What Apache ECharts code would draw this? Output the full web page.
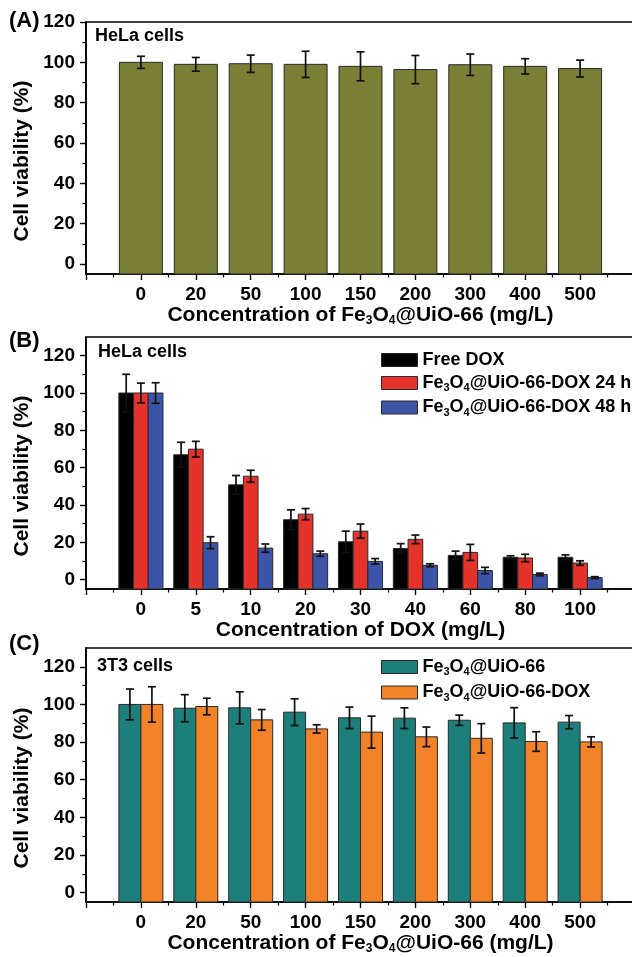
<!DOCTYPE html>
<html>
<head>
<meta charset="utf-8">
<title>Cell viability</title>
<script src="https://cdn.jsdelivr.net/npm/echarts@6/dist/echarts.min.js"></script>
<style>
  html, body { margin: 0; padding: 0; background: #fff; }
  #chart { width: 632px; height: 957px; }
</style>
</head>
<body>
<div id="chart"></div>
<script>
// (A) HeLa cells, carrier only
const concA = ['0', '20', '50', '100', '150', '200', '300', '400', '500']
const carrierHeLa = [100, 99, 99.3, 99, 98, 96.4, 98.8, 98, 96.9]
const carrierHeLaErr = [3, 3.4, 4.3, 6.5, 7.2, 7, 5.3, 3.8, 4.2]

// (B) HeLa cells, DOX formulations
const concB = ['0', '5', '10', '20', '30', '40', '60', '80', '100']
const freeDox = [100, 66.9, 50.8, 32.1, 20.3, 16.7, 13, 12, 12]
const freeDoxErr = [10, 6.7, 5, 5.3, 5.7, 2.6, 2.3, 0.8, 1.3]
const dox24 = [100, 69.9, 55.4, 35.1, 26, 21.6, 14.6, 11.6, 8.9]
const dox24Err = [5.3, 4.2, 3.2, 3, 3.8, 2.3, 4.3, 2, 1.2]
const dox48 = [100, 19.8, 16.9, 13.9, 9.8, 7.7, 4.9, 2.8, 1.1]
const dox48Err = [5.5, 3.2, 2.2, 1.4, 1.5, 0.8, 1.7, 0.7, 0.5]

// (C) 3T3 cells
const concC = ['0', '20', '50', '100', '150', '200', '300', '400', '500']
const carrier3T3 = [100, 98, 98.2, 95.9, 92.9, 92.7, 91.6, 90.2, 90.6]
const carrier3T3Err = [8.2, 7.2, 8.5, 7.1, 5.7, 5.5, 2.7, 8.1, 3.5]
const doxCarrier3T3 = [100, 98.9, 91.8, 87, 85.3, 82.8, 82, 80.3, 80.1]
const doxCarrier3T3Err = [9.4, 4.4, 5.5, 2.2, 8.5, 5.2, 7.8, 5.2, 2.7]

const yTicks = [0, 20, 40, 60, 80, 100, 120]
const yMinorTicks = [10, 30, 50, 70, 90, 110]

const FONT = '"Liberation Sans", Arial, Helvetica, sans-serif'
const Y_MIN = -5

// Fe3O4 -> subscripted rich text
function chem(s) {
  return s.replace(/Fe3O4/g, 'Fe{sub|3}O{sub|4}')
}
const subStyle = { fontSize: 12, fontWeight: 'bold', fontFamily: FONT, padding: [11, 0, 0, 0] }

function rows(values, errs) {
  return values.map((v, i) => [i, v, errs[i]])
}

// bar from the axis bottom + error bar, drawn through the axis scales
function barItem(offset, width) {
  return function (params, api) {
    const idx = api.value(0)
    const val = api.value(1)
    const err = api.value(2)
    const top = api.coord([idx, val])
    const base = api.coord([idx, Y_MIN])
    const hi = api.coord([idx, val + err])
    const lo = api.coord([idx, val - err])
    const cx = top[0] + offset
    const cap = 4
    const ink = { stroke: '#111', lineWidth: 1.7 }
    return {
      type: 'group',
      children: [
        {
          type: 'rect',
          shape: { x: cx - width / 2, y: top[1], width: width, height: base[1] - top[1] },
          style: { fill: api.visual('color'), stroke: '#2a2a2a', lineWidth: 1 }
        },
        { type: 'line', shape: { x1: cx, y1: hi[1], x2: cx, y2: lo[1] }, style: ink },
        { type: 'line', shape: { x1: cx - cap, y1: hi[1], x2: cx + cap, y2: hi[1] }, style: ink },
        { type: 'line', shape: { x1: cx - cap, y1: lo[1], x2: cx + cap, y2: lo[1] }, style: ink }
      ]
    }
  }
}

const grids = [
  { left: 86, width: 549, top: 22, height: 252 },
  { left: 86, width: 549, top: 337, height: 252 },
  { left: 86, width: 549, top: 648, height: 254 }
]

function xAxisFor(gridIndex, cats, name) {
  return {
    type: 'value',
    gridIndex: gridIndex,
    position: 'bottom',
    min: -1,
    max: 9,
    interval: 1,
    axisLine: { show: true, onZero: false, lineStyle: { color: '#000', width: 1.6 } },
    axisTick: { show: true, length: 6, lineStyle: { color: '#000', width: 1.4 } },
    minorTick: { show: true, splitNumber: 2, length: 3.5, lineStyle: { color: '#000', width: 1.2 } },
    splitLine: { show: false },
    minorSplitLine: { show: false },
    axisLabel: {
      margin: 11,
      fontSize: 19,
      fontWeight: 'bold',
      fontFamily: FONT,
      color: '#000',
      formatter: v => (cats[v] !== undefined ? cats[v] : '')
    },
    name: chem(name),
    nameLocation: 'middle',
    nameGap: 25,
    nameTextStyle: {
      fontSize: 21,
      fontWeight: 'bold',
      fontFamily: FONT,
      color: '#000',
      rich: { sub: subStyle }
    }
  }
}

function yAxesFor(gridIndex, max) {
  return [
    {
      type: 'value',
      gridIndex: gridIndex,
      position: 'left',
      min: Y_MIN,
      max: max,
      axisLine: { show: true, onZero: false, lineStyle: { color: '#000', width: 1.6 } },
      axisTick: { show: true, length: 6, customValues: yTicks, lineStyle: { color: '#000', width: 1.4 } },
      splitLine: { show: false },
      axisLabel: {
        customValues: yTicks,
        margin: 11,
        fontSize: 19,
        fontWeight: 'bold',
        fontFamily: FONT,
        color: '#000'
      },
      name: 'Cell viability (%)',
      nameLocation: 'middle',
      nameGap: 48,
      nameTextStyle: {
        fontSize: 21,
        fontWeight: 'bold',
        fontFamily: FONT,
        color: '#000',
        padding: [0, 26, 0, 0]
      }
    },
    {
      type: 'value',
      gridIndex: gridIndex,
      position: 'left',
      offset: 0,
      min: Y_MIN,
      max: max,
      axisLine: { show: false, onZero: false },
      axisTick: { show: true, length: 3.5, customValues: yMinorTicks, lineStyle: { color: '#000', width: 1.2 } },
      axisLabel: { show: false },
      splitLine: { show: false }
    }
  ]
}

function barSeries(name, gridIndex, values, errs, color, offset, width) {
  return {
    type: 'custom',
    name: name,
    xAxisIndex: gridIndex,
    yAxisIndex: gridIndex * 2,
    itemStyle: { color: color, borderColor: '#2a2a2a', borderWidth: 1 },
    renderItem: barItem(offset, width),
    encode: { x: 0, y: 1 },
    data: rows(values, errs),
    z: 3
  }
}

const legendText = {
  fontSize: 18,
  fontWeight: 'bold',
  fontFamily: FONT,
  color: '#000',
  rich: { sub: { fontSize: 11, fontWeight: 'bold', fontFamily: FONT, padding: [10, 0, 0, 0] } }
}

const chart = echarts.init(document.getElementById('chart'))

chart.setOption({
  animation: false,
  backgroundColor: '#fff',
  grid: grids.map(g => Object.assign({
    show: true,
    borderColor: '#000',
    borderWidth: 1.6,
    backgroundColor: 'transparent',
    containLabel: false,
    outerBoundsMode: 'none'
  }, g)),
  xAxis: [
    xAxisFor(0, concA, 'Concentration of Fe3O4@UiO-66 (mg/L)'),
    xAxisFor(1, concB, 'Concentration of DOX (mg/L)'),
    xAxisFor(2, concC, 'Concentration of Fe3O4@UiO-66 (mg/L)')
  ],
  yAxis: [].concat(yAxesFor(0, 120), yAxesFor(1, 130), yAxesFor(2, 130)),
  legend: [
    {
      orient: 'vertical',
      left: 376,
      top: 346,
      itemWidth: 36,
      itemHeight: 13,
      itemGap: 5,
      icon: 'rect',
      data: ['Free DOX', 'Fe3O4@UiO-66-DOX 24 h', 'Fe3O4@UiO-66-DOX 48 h'],
      formatter: chem,
      textStyle: legendText,
      itemStyle: { borderColor: '#2a2a2a', borderWidth: 1 }
    },
    {
      orient: 'vertical',
      left: 376,
      top: 653,
      itemWidth: 36,
      itemHeight: 13,
      itemGap: 6,
      icon: 'rect',
      data: ['Fe3O4@UiO-66', 'Fe3O4@UiO-66-DOX'],
      formatter: chem,
      textStyle: legendText,
      itemStyle: { borderColor: '#2a2a2a', borderWidth: 1 }
    }
  ],
  graphic: [
    { type: 'text', left: 9, top: 10, style: { text: '(A)', font: 'bold 22px ' + FONT, fill: '#000' } },
    { type: 'text', left: 9, top: 330, style: { text: '(B)', font: 'bold 22px ' + FONT, fill: '#000' } },
    { type: 'text', left: 9, top: 633, style: { text: '(C)', font: 'bold 22px ' + FONT, fill: '#000' } },
    { type: 'text', left: 95, top: 27, style: { text: 'HeLa cells', font: 'bold 18px ' + FONT, fill: '#000' } },
    { type: 'text', left: 98, top: 343, style: { text: 'HeLa cells', font: 'bold 18px ' + FONT, fill: '#000' } },
    { type: 'text', left: 97, top: 657, style: { text: '3T3 cells', font: 'bold 18px ' + FONT, fill: '#000' } }
  ],
  series: [
    barSeries('HeLa', 0, carrierHeLa, carrierHeLaErr, '#7b7f36', 0, 43),
    barSeries('Free DOX', 1, freeDox, freeDoxErr, '#000000', -14.7, 14.7),
    barSeries('Fe3O4@UiO-66-DOX 24 h', 1, dox24, dox24Err, '#e5322a', 0, 14.7),
    barSeries('Fe3O4@UiO-66-DOX 48 h', 1, dox48, dox48Err, '#3d55a8', 14.7, 14.7),
    barSeries('Fe3O4@UiO-66', 2, carrier3T3, carrier3T3Err, '#1d7f7b', -11, 22),
    barSeries('Fe3O4@UiO-66-DOX', 2, doxCarrier3T3, doxCarrier3T3Err, '#f28228', 11, 22)
  ]
})
</script>
</body>
</html>
